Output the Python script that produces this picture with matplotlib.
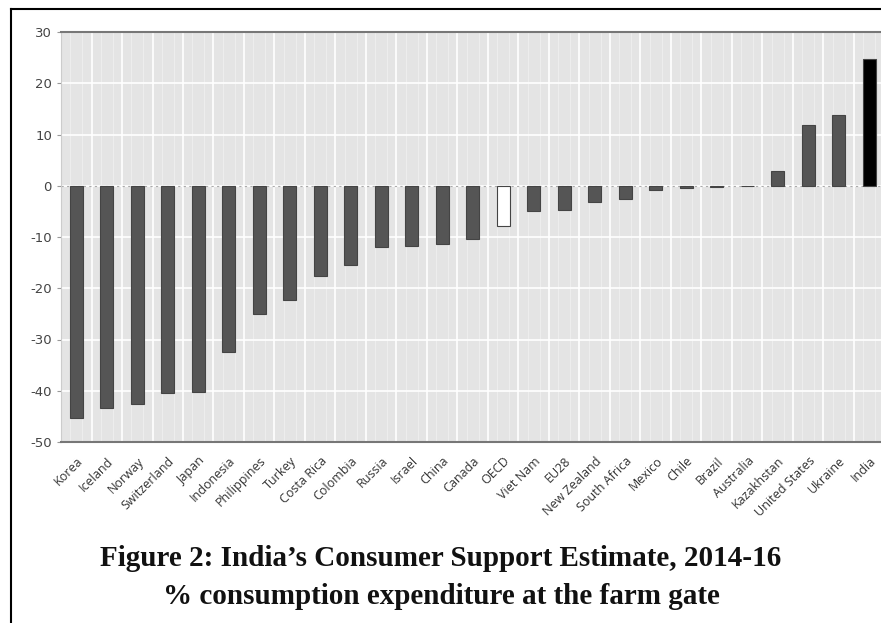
import numpy as np
import matplotlib.pyplot as plt
from matplotlib.ticker import MultipleLocator

plt.rcParams['axes.unicode_minus'] = False

countries = ['Korea', 'Iceland', 'Norway', 'Switzerland', 'Japan', 'Indonesia',
             'Philippines', 'Turkey', 'Costa Rica', 'Colombia', 'Russia', 'Israel',
             'China', 'Canada', 'OECD', 'Viet Nam', 'EU28', 'New Zealand',
             'South Africa', 'Mexico', 'Chile', 'Brazil', 'Australia',
             'Kazakhstan', 'United States', 'Ukraine', 'India']
cse = [-45.4, -43.4, -42.6, -40.5, -40.2, -32.4, -25.1, -22.3, -17.7, -15.5,
       -12.0, -11.7, -11.4, -10.3, -7.9, -4.9, -4.8, -3.1, -2.5, -0.8, -0.5,
       -0.3, -0.1, 2.9, 11.9, 13.8, 24.7]

W, H = 881, 623
fig = plt.figure(figsize=(W / 100, H / 100), dpi=100)

# page frame lines (left and top)
fig.add_artist(plt.Line2D([11 / W, 11 / W], [0, 1 - 9 / H], color='black', lw=1.5))
fig.add_artist(plt.Line2D([11 / W, 1], [1 - 9 / H, 1 - 9 / H], color='black', lw=1.5))

n = len(countries)
step = 30.5
ax = fig.add_axes([61 / W, 1 - 442 / H, n * step / W, 410 / H])
ax.set_facecolor('#e4e4e4')

x = np.arange(n)
colors = ['#555555'] * n
colors[countries.index('OECD')] = 'white'
colors[countries.index('India')] = 'black'
ax.bar(x, cse, width=0.44, color=colors, edgecolor='#444444', linewidth=0.8, zorder=3)

ax.set_xlim(-0.5, n - 0.5)
ax.set_ylim(-50, 30)
ax.yaxis.set_major_locator(MultipleLocator(10))

# white grid
ax.set_xticks(x + 0.5, minor=True)
ax.grid(True, which='major', axis='y', color='white', lw=1.2, zorder=0)
ax.grid(True, which='minor', axis='x', color='white', lw=1.2, zorder=0)
for xv in x:
    ax.axvline(xv + 0.2, color='#efefef', lw=0.6, zorder=0)
    ax.axvline(xv - 0.2, color='#efefef', lw=0.6, zorder=0)
ax.axhline(0, color='#aaaaaa', lw=0.8, ls=(0, (2, 3)), zorder=2)

ax.set_xticks(x)
ax.set_xticklabels(countries, rotation=45, ha='right', rotation_mode='anchor',
                   fontsize=9, color='#333333', family='Open Sans')
ax.tick_params(axis='x', which='both', length=0, pad=9)
ax.tick_params(axis='y', length=3, color='#999999', labelsize=9.5, labelcolor='#444444')

for side in ['top', 'bottom']:
    ax.spines[side].set_color('#777777')
    ax.spines[side].set_linewidth(1.5)
ax.spines['left'].set_color('#cccccc')
ax.spines['right'].set_visible(False)

fig.text(441 / W, 1 - 558 / H, 'Figure 2: India\u2019s Consumer Support Estimate, 2014-16',
         ha='center', va='center', fontsize=21, fontweight='bold',
         family='Liberation Serif', color='#111111')
fig.text(441 / W, 1 - 597 / H, '% consumption expenditure at the farm gate',
         ha='center', va='center', fontsize=21, fontweight='bold',
         family='Liberation Serif', color='#111111')

fig.savefig('out.png', dpi=100)
